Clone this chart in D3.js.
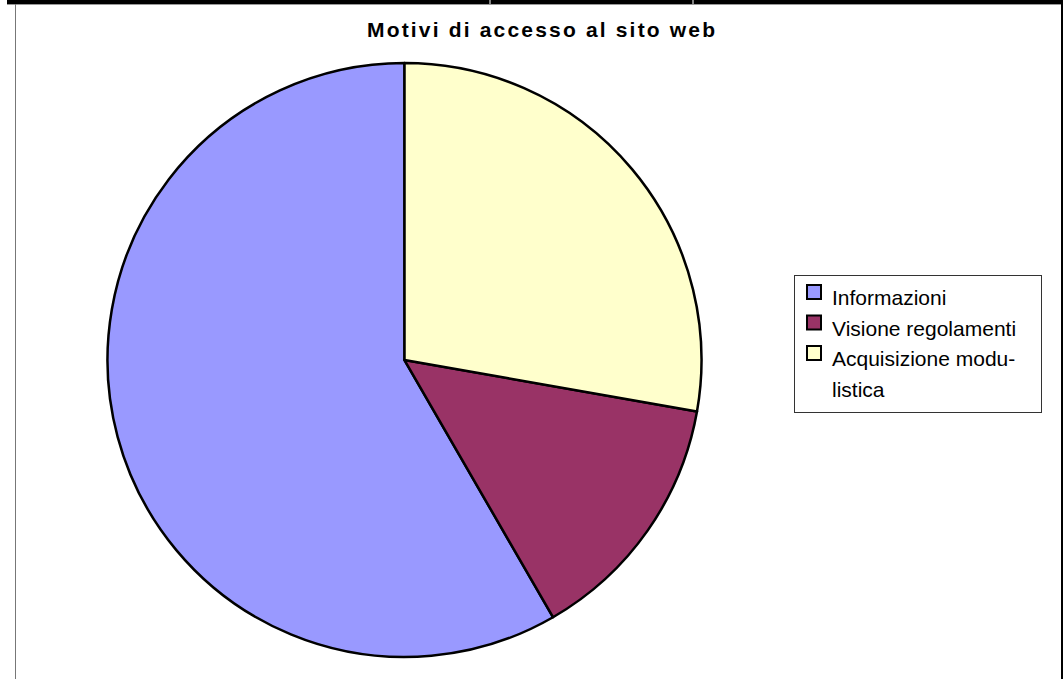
<!DOCTYPE html>
<html>
<head>
<meta charset="utf-8">
<script src="https://cdn.jsdelivr.net/npm/d3@7"></script>
<style>
body { margin: 0; background: #fff; }
svg { display: block; font-family: "Liberation Sans", Arial, sans-serif; }
</style>
</head>
<body>
<svg id="mainSvg" width="1063" height="679"></svg>
<script>
var chartTitle = "Motivi di accesso al sito web";
var categories = ["Informazioni", "Visione regolamenti", "Acquisizione modulistica"];
var legendLines = [["Informazioni"], ["Visione regolamenti"], ["Acquisizione modu-", "listica"]];
var values = [42, 10, 20];
var colours = ["#9999ff", "#993366", "#ffffcc"];

var map = {width: 1063, height: 679};
var mainSvg = d3.select("#mainSvg");

// page frame left over from the document around the chart
mainSvg.append("rect").attr("x", 7).attr("y", 0).attr("width", map.width - 7).attr("height", 4).attr("fill", "#000");
mainSvg.append("line").attr("x1", 7).attr("x2", map.width).attr("y1", 4.5).attr("y2", 4.5).attr("style", "stroke:#999;stroke-width:1");
[490, 693].forEach(function(x) {
	mainSvg.append("line").attr("x1", x).attr("x2", x).attr("y1", 0).attr("y2", 4).attr("style", "stroke:#fff;stroke-width:1");
});
mainSvg.append("line").attr("x1", 15.5).attr("x2", 15.5).attr("y1", 4).attr("y2", map.height).attr("style", "stroke:#777;stroke-width:1");
mainSvg.append("rect").attr("x", 1061).attr("y", 0).attr("width", 2).attr("height", map.height).attr("fill", "#000");

// title
mainSvg.append("text").attr("x", 541).attr("y", 37).attr("text-anchor", "middle")
	.attr("font-size", "21px").attr("font-weight", "bold")
	.attr("textLength", 348).attr("lengthAdjust", "spacing")
	.text(chartTitle);

// pie, counter-clockwise from 12 o'clock
var cx = 404.5, cy = 360, radius = 297;
var pie = d3.pie().sort(null).startAngle(0).endAngle(-2 * Math.PI);
var arc = d3.arc().innerRadius(0).outerRadius(radius);
var colour = d3.scaleOrdinal().domain(categories).range(colours);

mainSvg.append("g").attr("transform", "translate(" + cx + "," + cy + ")")
	.selectAll("path").data(pie(values)).enter().append("path")
	.attr("d", arc)
	.attr("fill", function(d, i) { return colour(categories[i]); })
	.attr("stroke", "#000").attr("stroke-width", 2.5).attr("stroke-linejoin", "round");

// legend
var legend = mainSvg.append("g");
legend.append("rect").attr("x", 794.5).attr("y", 275.5).attr("width", 247).attr("height", 137)
	.attr("fill", "#fff").attr("stroke", "#333").attr("stroke-width", 1);

var baseY = 305, lineH = 30.5, row = 0;
categories.forEach(function(c, i) {
	var y = baseY + row * lineH;
	legend.append("rect").attr("x", 807).attr("y", y - 20).attr("width", 14).attr("height", 14)
		.attr("fill", colour(c)).attr("stroke", "#000").attr("stroke-width", 2);
	legendLines[i].forEach(function(t, j) {
		legend.append("text").attr("x", 832).attr("y", baseY + (row + j) * lineH)
			.attr("font-size", "21px").attr("fill", "#000").text(t);
	});
	row += legendLines[i].length;
});
</script>
</body>
</html>
